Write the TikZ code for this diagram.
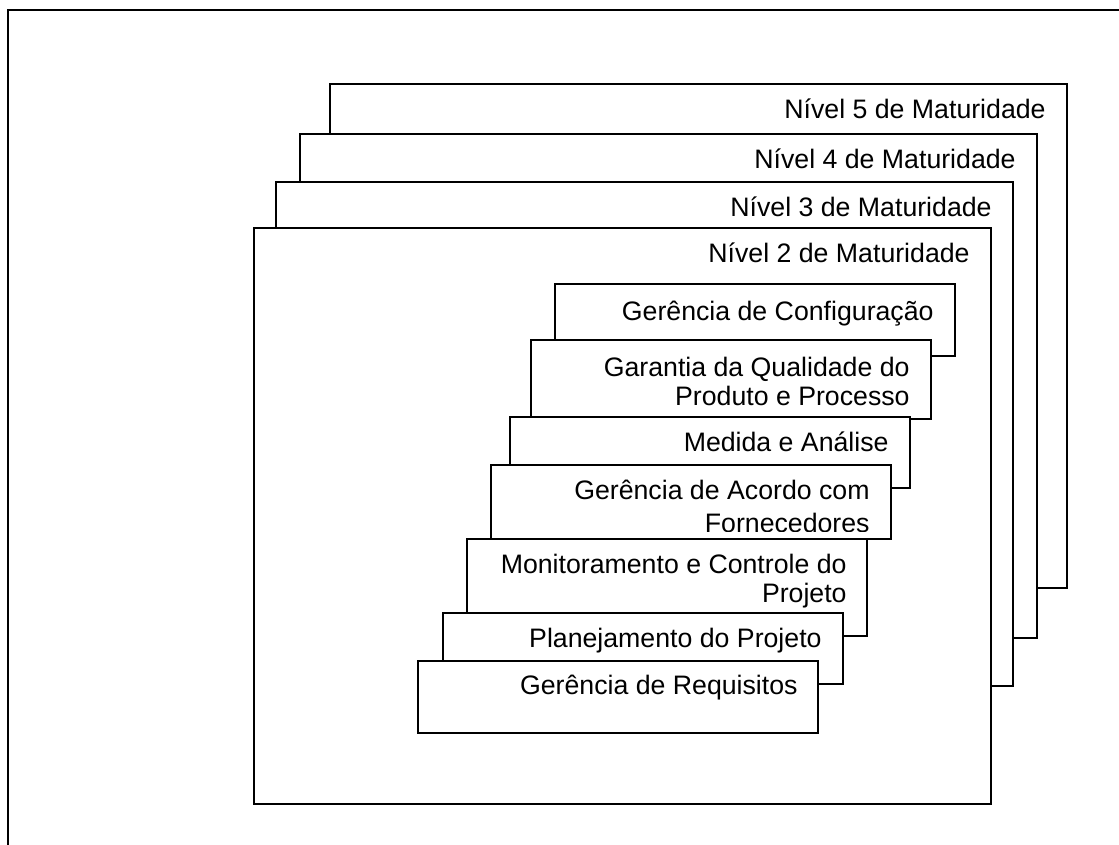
\documentclass[tikz,border=0pt]{standalone}
\usepackage{fontspec}
\setmainfont{Liberation Sans}
\begin{document}
\begin{tikzpicture}[x=1pt,y=-1pt,
  frame/.style={draw=black,line width=1.8pt},
  lvlbox/.style={draw=black,fill=white,line width=1.8pt,anchor=north west,inner sep=0pt},
  pabox/.style={draw=black,fill=white,line width=1.8pt,anchor=north west,inner sep=0pt,minimum width=400pt},
  lbl/.style={font=\fontsize{26.7}{29}\selectfont,align=right,inner sep=0pt,anchor=north east},
]
\useasboundingbox (0,0) rectangle (1119,845);
\clip (0,0) rectangle (1119,845);
% outer frame
\draw[frame] (8,10) rectangle (1140,870);
% maturity levels
\node[lvlbox,minimum width=737pt,minimum height=504pt] (m5) at (329,83) {};
\node[lbl] (t5) at ([xshift=-22pt,yshift=-10.5pt]m5.north east) {\rule{0pt}{25pt}Nível 5 de Maturidade};
\node[lvlbox,minimum width=737pt,minimum height=504pt] (m4) at (299,133) {};
\node[lbl] (t4) at ([xshift=-22pt,yshift=-10.5pt]m4.north east) {\rule{0pt}{25pt}Nível 4 de Maturidade};
\node[lvlbox,minimum width=737pt,minimum height=504pt] (m3) at (275,181) {};
\node[lbl] (t3) at ([xshift=-22pt,yshift=-10.5pt]m3.north east) {\rule{0pt}{25pt}Nível 3 de Maturidade};
\node[lvlbox,minimum width=737pt,minimum height=576pt] (m2) at (253,227) {};
\node[lbl] (t2) at ([xshift=-22pt,yshift=-10.5pt]m2.north east) {\rule{0pt}{25pt}Nível 2 de Maturidade};
% process areas
\node[pabox,minimum height=72pt] (a1) at (554,283) {};
\node[lbl] (l1) at ([xshift=-22pt,yshift=-12pt]a1.north east) {\rule{0pt}{25pt}Gerência de Configuração};
\node[pabox,minimum height=79pt] (a2) at (530,339) {};
\node[lbl] (l2) at ([xshift=-22pt,yshift=-12pt]a2.north east) {\rule{0pt}{25pt}Garantia da Qualidade do\\Produto e Processo};
\node[pabox,minimum height=71pt] (a3) at (509,416) {};
\node[lbl] (l3) at ([xshift=-22pt,yshift=-10.5pt]a3.north east) {\rule{0pt}{25pt}Medida e Análise};
\node[pabox,minimum height=74pt] (a4) at (490,464) {};
\begin{scope}
\clip (a4.north west) rectangle ([yshift=8pt]a4.south east);
\node[lbl,font=\fontsize{26.7}{33}\selectfont] (l4) at ([xshift=-22pt,yshift=-10pt]a4.north east) {\rule{0pt}{25pt}Gerência de Acordo com\\Fornecedores};
\end{scope}
\node[pabox,minimum height=97pt] (a5) at (466,538) {};
\node[lbl] (l5) at ([xshift=-21pt,yshift=-10.5pt]a5.north east) {\rule{0pt}{25pt}Monitoramento e Controle do\\Projeto};
\node[pabox,minimum height=71pt] (a6) at (442,612) {};
\node[lbl] (l6) at ([xshift=-22pt,yshift=-10pt]a6.north east) {\rule{0pt}{25pt}Planejamento do Projeto};
\node[pabox,minimum height=72pt] (a7) at (417,660) {};
\node[lbl] (l7) at ([xshift=-21pt,yshift=-9.5pt]a7.north east) {\rule{0pt}{25pt}Gerência de Requisitos};
\end{tikzpicture}
\end{document}
